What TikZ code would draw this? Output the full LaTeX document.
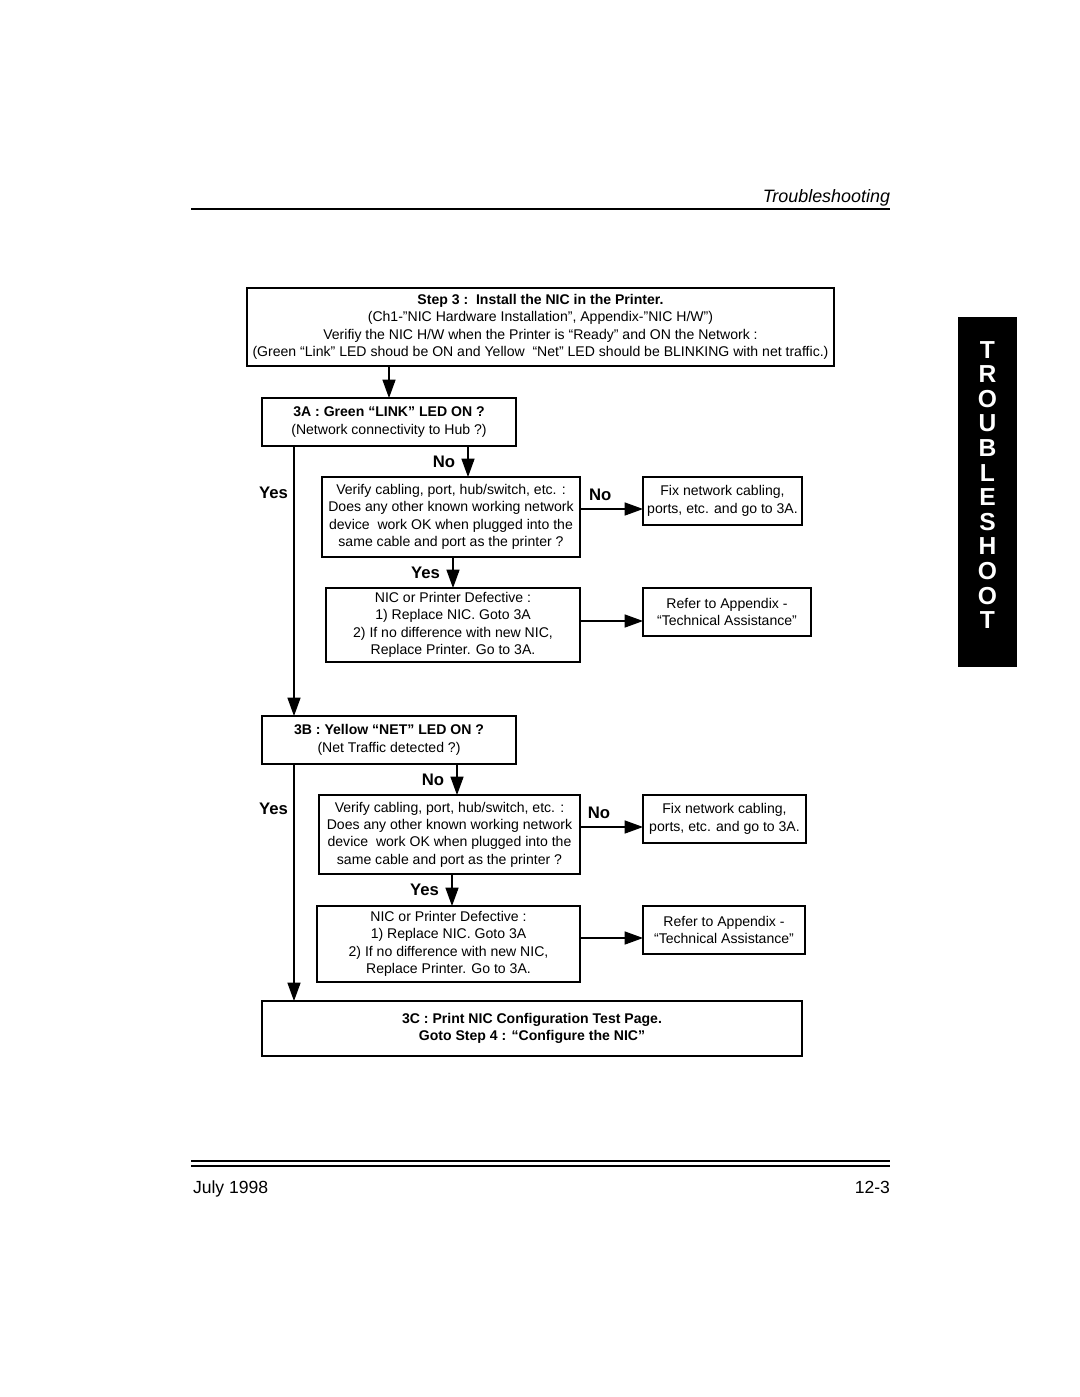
\documentclass[tikz,border=0pt]{standalone}
\usepackage{fontspec}
\setmainfont{Liberation Sans}
\usetikzlibrary{arrows.meta,positioning,calc}

\begin{document}
\begin{tikzpicture}[
    x=0.2mm, y=-0.2mm,
    every node/.style={inner sep=0mm, outer sep=0cm},
    kasse/.style={rectangle, draw=black, line width=0.6pt, align=center, font=\fontsize{8}{9.9}\selectfont},
    svar/.style={font=\fontsize{9.5}{11}\selectfont\bfseries},
    pil/.style={line width=0.6pt, -{Triangle[length=10.5pt,width=7.5pt]}},
    ]
    \useasboundingbox (0,0) rectangle (1080,1397);

% page head and foot
\node[anchor=base east, font=\fontsize{10.2}{12}\selectfont\itshape] (kopf) at (890,202) {Troubleshooting};
\draw[line width=1.6pt] (191,209) -- (890,209);
\draw[line width=1.6pt] (191,1161) -- (890,1161);
\draw[line width=0.8pt] (191,1166) -- (890,1166);
\node[anchor=base west, font=\fontsize{10}{12}\selectfont] (datum) at (193,1193) {July 1998};
\node[anchor=base east, font=\fontsize{10}{12}\selectfont] (seite) at (890,1193) {12-3};

% side tab
\node[fill=black, minimum width=11.8mm, minimum height=70mm] (reiter) at (987.5,492) {};
\node[text=white, align=center, font=\fontsize{14}{14}\selectfont\bfseries] (reitertext) at (987.5,485)
    {T\\R\\O\\U\\B\\L\\E\\S\\H\\O\\O\\T};

% boxes
\node[kasse, minimum width=117.4mm, minimum height=15.6mm] (s3) at (540.5,327)
    {\textbf{Step 3 :\ \ Install the NIC in the Printer.}\\
     (Ch1-”NIC Hardware Installation”, Appendix-”NIC H/W”)\\
     Verifiy the NIC H/W when the Printer is “Ready” and ON the Network :\\
     (Green “Link” LED shoud be ON and Yellow\ \ “Net” LED should be BLINKING with net traffic.)};
\node[kasse, minimum width=50.8mm, minimum height=9.6mm] (a3) at (389,422)
    {\textbf{3A : Green “LINK” LED ON ?}\\(Network connectivity to Hub ?)};
\node[kasse, minimum width=51.6mm, minimum height=16mm] (v1) at (451,517)
    {Verify cabling, port, hub/switch, etc. :\\Does any other known working network\\
     device\ \ work OK when plugged into the\\same cable and port as the printer ?};
\node[kasse, minimum width=31.8mm, minimum height=9.6mm] (f1) at (722.5,501)
    {Fix network cabling,\\ports, etc. and go to 3A.};
\node[kasse, minimum width=50.8mm, minimum height=14.8mm] (d1) at (453,625)
    {NIC or Printer Defective :\\1) Replace NIC. Goto 3A\\
     2) If no difference with new NIC,\\Replace Printer. Go to 3A.};
\node[kasse, minimum width=33.6mm, minimum height=9.6mm] (r1) at (727,612)
    {Refer to Appendix -\\“Technical Assistance”};
\node[kasse, minimum width=50.8mm, minimum height=9.6mm] (b3) at (389,740)
    {\textbf{3B : Yellow “NET” LED ON ?}\\(Net Traffic detected ?)};
\node[kasse, minimum width=52.2mm, minimum height=15.8mm] (v2) at (449.5,834.5)
    {Verify cabling, port, hub/switch, etc. :\\Does any other known working network\\
     device\ \ work OK when plugged into the\\same cable and port as the printer ?};
\node[kasse, minimum width=32.6mm, minimum height=9.6mm] (f2) at (724.5,819)
    {Fix network cabling,\\ports, etc. and go to 3A.};
\node[kasse, minimum width=52.6mm, minimum height=15.2mm] (d2) at (448.5,944)
    {NIC or Printer Defective :\\1) Replace NIC. Goto 3A\\
     2) If no difference with new NIC,\\Replace Printer. Go to 3A.};
\node[kasse, minimum width=32.4mm, minimum height=9.6mm] (r2) at (724,930)
    {Refer to Appendix -\\“Technical Assistance”};
\node[kasse, minimum width=108mm, minimum height=11mm, font=\fontsize{8}{9.9}\selectfont\bfseries] (c3) at (532,1028.5)
    {3C : Print NIC Configuration Test Page.\\Goto Step 4 : “Configure the NIC”};

% arrow feet
\coordinate (ja) at ($(a3.south west)+(32,0)$);
\coordinate (na) at ($(a3.south east)+(-48,0)$);
\coordinate (ya) at ($(v1.south east)+(-127,0)$);
\coordinate (nh) at ($(v1.north east)+(0,32)$);
\coordinate (dh) at ($(d1.north east)+(0,33)$);
\coordinate (jb) at ($(b3.south west)+(32,0)$);
\coordinate (nb) at ($(b3.south east)+(-59,0)$);
\coordinate (yb) at ($(v2.south east)+(-128,0)$);
\coordinate (nk) at ($(v2.north east)+(0,32)$);
\coordinate (dk) at ($(d2.north east)+(0,32)$);

\draw[pil] (a3.north |- s3.south) -- (a3.north);
% 3A
\draw[pil] (ja) -- (ja |- b3.north) node[svar, left=1.2mm, pos=.175] {Yes};
\draw[pil] (na) -- (na |- v1.north) node[svar, left=2.6mm, pos=.5] {No};
\draw[pil] (nh) -- (nh -| f1.west) node[svar, above=1.6mm, pos=.32] {No};
\draw[pil] (ya) -- (ya |- d1.north) node[svar, left=2.6mm, pos=.5] {Yes};
\draw[pil] (dh) -- (dh -| r1.west);
% 3B
\draw[pil] (jb) -- (jb |- c3.north) node[svar, left=1.2mm, pos=.19] {Yes};
\draw[pil] (nb) -- (nb |- v2.north) node[svar, left=2.6mm, pos=.5] {No};
\draw[pil] (nk) -- (nk -| f2.west) node[svar, above=1.6mm, pos=.3] {No};
\draw[pil] (yb) -- (yb |- d2.north) node[svar, left=2.6mm, pos=.5] {Yes};
\draw[pil] (dk) -- (dk -| r2.west);
\end{tikzpicture}
\end{document}
